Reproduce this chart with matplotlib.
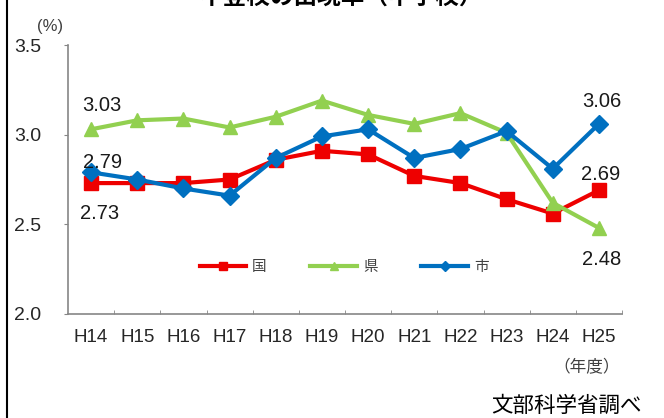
import matplotlib
matplotlib.use("Agg")
import matplotlib.pyplot as plt
from matplotlib.lines import Line2D

plt.rcParams["font.family"] = ["Liberation Sans", "Noto Sans CJK JP"]

years = ["H14", "H15", "H16", "H17", "H18", "H19", "H20", "H21", "H22", "H23", "H24", "H25"]
kuni = [2.73, 2.73, 2.73, 2.75, 2.86, 2.91, 2.89, 2.77, 2.73, 2.64, 2.56, 2.69]
ken = [3.03, 3.08, 3.09, 3.04, 3.10, 3.19, 3.11, 3.06, 3.12, 3.01, 2.62, 2.48]
shi = [2.79, 2.75, 2.70, 2.66, 2.87, 2.99, 3.03, 2.87, 2.92, 3.02, 2.81, 3.06]
series_names = ["国", "県", "市"]

RED = "#ee0000"
GREEN = "#92d050"
BLUE = "#0070c0"
GRAY = "#868686"

fig = plt.figure(figsize=(6.64, 4.18), dpi=100)
ax = fig.add_axes([68 / 664, 1 - 314 / 418, 554 / 664, 269 / 418])

x = list(range(len(years)))
ax.plot(x, kuni, color=RED, lw=3, marker="s", ms=10, label=series_names[0])
ax.plot(x, ken, color=GREEN, lw=3, marker="^", ms=10, label=series_names[1])
ax.plot(x, shi, color=BLUE, lw=3, marker="D", ms=9, label=series_names[2])

ax.set_xlim(-0.5, len(years) - 0.5)
ax.set_ylim(2.0, 3.5)
ax.set_yticks([2.0, 2.5, 3.0, 3.5])
ax.set_yticklabels(["2.0", "2.5", "3.0", "3.5"])
ax.set_xticks(x)
ax.set_xticklabels(years)
ax.set_xticks([i + 0.5 for i in x], minor=True)

for side in ["top", "right"]:
    ax.spines[side].set_visible(False)
for side in ["left", "bottom"]:
    ax.spines[side].set_color(GRAY)
    ax.spines[side].set_linewidth(1.2)

ax.tick_params(axis="y", direction="out", length=3, color=GRAY, pad=16,
               labelsize=14, labelcolor="#262626")
ax.tick_params(axis="x", which="major", length=0, pad=11,
               labelsize=13.5, labelcolor="#262626")
ax.tick_params(axis="x", which="minor", direction="in", length=3, color=GRAY)

# value labels at the first and last year
lab_kw = dict(textcoords="offset points", ha="center", va="center",
              fontsize=14.5, color="#1a1a1a")
ax.annotate(f"{ken[0]:.2f}", (0, ken[0]), xytext=(8, 17), **lab_kw)
ax.annotate(f"{shi[0]:.2f}", (0, shi[0]), xytext=(8, 7), **lab_kw)
ax.annotate(f"{kuni[0]:.2f}", (0, kuni[0]), xytext=(6, -22), **lab_kw)
ax.annotate(f"{shi[-1]:.2f}", (11, shi[-1]), xytext=(2, 16), **lab_kw)
ax.annotate(f"{kuni[-1]:.2f}", (11, kuni[-1]), xytext=(1, 11), **lab_kw)
ax.annotate(f"{ken[-1]:.2f}", (11, ken[-1]), xytext=(2, -23), **lab_kw)

leg = fig.legend(loc="center", bbox_to_anchor=(344 / 664, 1 - 267 / 418),
                 ncol=3, frameon=False, handlelength=3.2, handletextpad=0.4,
                 columnspacing=3.0, markerscale=0.6,
                 prop={"family": ["Noto Sans CJK JP"], "size": 10.5})
for t in leg.get_texts():
    t.set_color("#404040")

cjk = ["Noto Sans CJK JP"]
fig.text(341 / 664, 1 + 3 / 418, "不登校の出現率（中学校）", ha="center", va="center",
         fontsize=17, fontweight="bold", family=cjk)
fig.text(50 / 664, 1 - 27 / 418, "(%)", ha="center", va="center",
         fontsize=12, color="#404040")
fig.text(587 / 664, 1 - 368 / 418, "（年度）", ha="center", va="center",
         fontsize=12, color="#404040", family=cjk)
fig.text(566 / 664, 1 - 406 / 418, "文部科学省調べ", ha="center", va="center",
         fontsize=15.5, color="black", family=cjk)

# left border of the frame
fig.add_artist(Line2D([7 / 664, 7 / 664], [0, 1], transform=fig.transFigure,
                      color="black", lw=1.5))

fig.savefig("out.png", dpi=100)
